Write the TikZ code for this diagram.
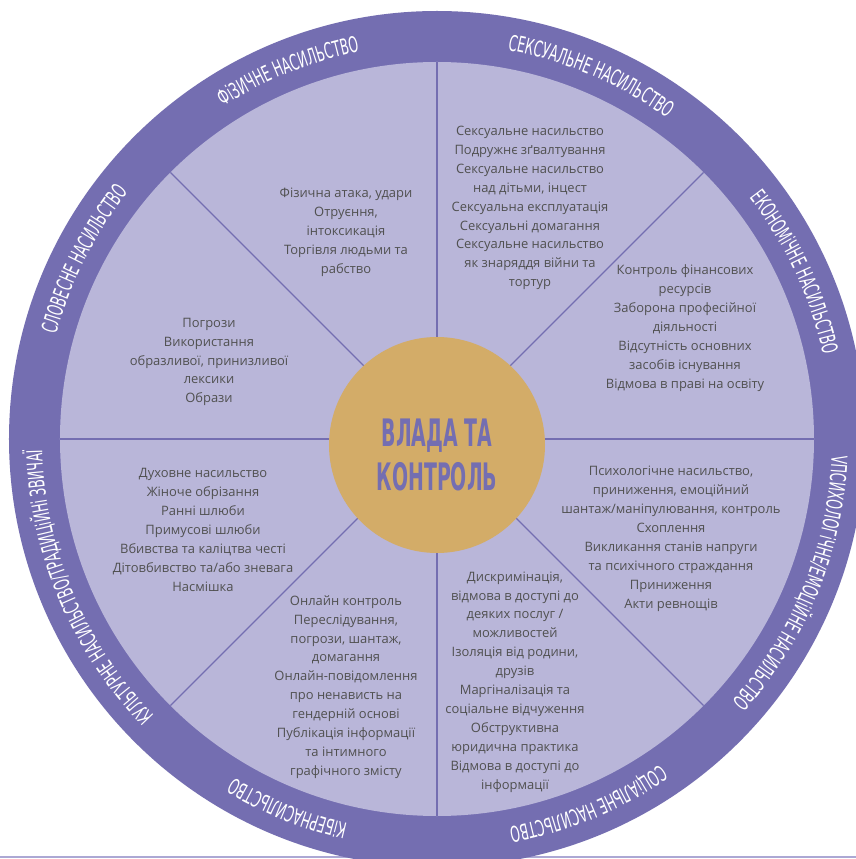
\documentclass[tikz,border=0pt]{standalone}
\usepackage{fontspec}
\setmainfont{Open Sans}
\newfontfamily\ringfont[FakeStretch=0.56]{DejaVu Sans}
\newfontfamily\titlefont[FakeStretch=0.5]{DejaVu Sans}
\usetikzlibrary{decorations.text}

\definecolor{ringpurple}{HTML}{746EB1}
\definecolor{sectorfill}{HTML}{B9B6D9}
\definecolor{coregold}{HTML}{D3AC68}
\definecolor{textgray}{HTML}{505050}
\definecolor{rulepurple}{HTML}{ACA8D4}

\tikzset{
  sectortext/.style={align=center,text=textgray,inner sep=0pt,
    font=\fontsize{13}{19}\selectfont},
  divider/.style={draw=ringpurple,line width=1.3pt},
}
% label written clockwise on the ring: angle, half span, text
\newcommand{\ringlabel}[3]{%
  \path[postaction={decorate,decoration={text along path,text align=center,
      text color=white,text={|\ringfont\fontsize{22}{22}\selectfont|#3}}}]
    (#1+#2:395) arc[start angle=#1+#2,end angle=#1-#2,radius=395];}

\begin{document}
\begin{tikzpicture}[x=1bp,y=1bp]
	\clip (-437,-420) rectangle (419,439);
	\fill [white] (-437,-420) rectangle (419,439);
	\draw [rulepurple,line width=1.5pt] (-437,-418) -- (419,-418);
	\fill [ringpurple] (0,0) circle [radius=428];
	\fill [sectorfill] (0,0) circle [radius=377];
	\foreach \a in {0,45,...,315}
		\draw [divider] (0,0) -- (\a:377);
	\node [circle,fill=coregold,minimum size=216bp,inner sep=0pt] (core) at (0,-6) {};
	\node [align=center,text=ringpurple,font=\titlefont\bfseries\fontsize{38}{45}\selectfont]
		(title) at (0,-16) {ВЛАДА ТА\\КОНТРОЛЬ};

	\ringlabel{112}{22}{ФіЗИЧНЕ НАСИЛЬСТВО}
	\ringlabel{67}{24}{СЕКСУАЛЬНЕ НАСИЛЬСТВО}
	\ringlabel{25}{24}{ЕКОНОМіЧНЕ НАСИЛЬСТВО}
	\ringlabel{-22}{27}{VПСИХОЛОГіЧНЕ/ЕМОЦіЙНЕ НАСИЛЬСТВО}
	\ringlabel{-67.5}{24}{СОЦіАЛЬНЕ НАСИЛЬСТВО}
	\ringlabel{-112}{22}{КіБЕРНАСИЛЬСТВО}
	\ringlabel{-157}{29}{КУЛЬТУРНЕ НАСИЛЬСТВО/ТРАДИЦіЙНі ЗВИЧАЇ}
	\ringlabel{153}{22}{СЛОВЕСНЕ НАСИЛЬСТВО}

	\node [sectortext] (physical) at (-91,207) {Фізична атака, удари\\Отруєння,\\інтоксикація\\Торгівля людьми та\\рабство};
	\node [sectortext] (sexual) at (93,231) {Сексуальне насильство\\Подружнє зґвалтування\\Сексуальне насильство\\над дітьми, інцест\\Сексуальна експлуатація\\Сексуальні домагання\\Сексуальне насильство\\як знаряддя війни та\\тортур};
	\node [sectortext] (economic) at (248,111) {Контроль фінансових\\ресурсів\\Заборона професійної\\діяльності\\Відсутність основних\\засобів існування\\Відмова в праві на освіту};
	\node [sectortext] (psycho) at (234,-100) {Психологічне насильство,\\приниження, емоційний\\шантаж/маніпулювання, контроль\\Схоплення\\Викликання станів напруги\\та психічного страждання\\Приниження\\Акти ревнощів};
	\node [sectortext] (social) at (78,-243) {Дискримінація,\\відмова в доступі до\\деяких послуг /\\можливостей\\Ізоляція від родини,\\друзів\\Маргіналізація та\\соціальне відчуження\\Обструктивна\\юридична практика\\Відмова в доступі до\\інформації};
	\node [sectortext] (cyber) at (-91,-248) {Онлайн контроль\\Переслідування,\\погрози, шантаж,\\домагання\\Онлайн-повідомлення\\про ненависть на\\гендерній основі\\Публікація інформації\\та інтимного\\графічного змісту};
	\node [sectortext] (cultural) at (-234,-91) {Духовне насильство\\Жіноче обрізання\\Ранні шлюби\\Примусові шлюби\\Вбивства та каліцтва честі\\Дітовбивство та/або зневага\\Насмішка};
	\node [sectortext] (verbal) at (-228,77) {Погрози\\Використання\\образливої, принизливої\\лексики\\Образи};
\end{tikzpicture}
\end{document}
